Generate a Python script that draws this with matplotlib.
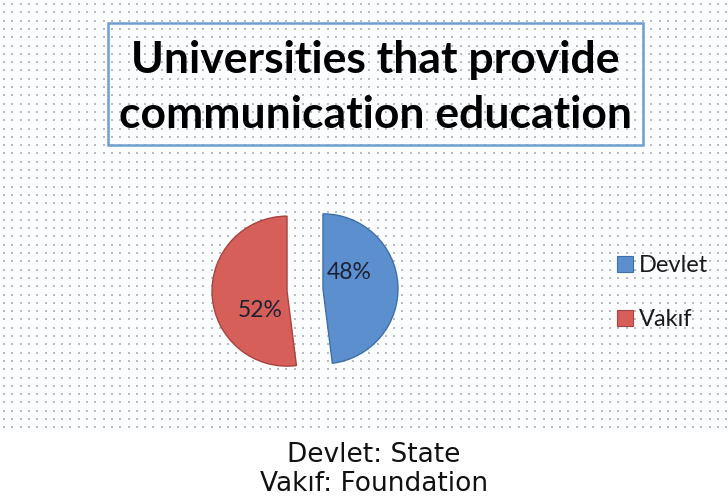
import numpy as np
import matplotlib
matplotlib.use("Agg")
import matplotlib.pyplot as plt
from matplotlib.patches import Rectangle

# Data
categories = ["Devlet", "Vakıf"]
shares = [48, 52]
colors = ["#5b8fce", "#d65f5a"]
edge_colors = ["#3e6fa8", "#a8433f"]
title_lines = ["Universities that provide", "communication education"]
captions = ["Devlet: State", "Vakıf: Foundation"]

W, H = 728, 501
fig = plt.figure(figsize=(W / 100, H / 100), dpi=100)
fig.patch.set_facecolor("white")

# dotted background panel (pixel coordinates)
bg = fig.add_axes([0, 0, 1, 1])
bg.set_xlim(0, W)
bg.set_ylim(H, 0)
bg.axis("off")
bg.add_patch(Rectangle((0, 0), W, 432, facecolor="#fbfdff", edgecolor="none", zorder=0))
xs = np.arange(4, W, 8.3)
ys = np.arange(4, 432, 8.3)
gx, gy = np.meshgrid(xs, ys)
bg.scatter(gx.ravel(), gy.ravel(), s=0.6, c="#b8bcc4", marker="s", linewidths=0, zorder=1)

# title box (transparent, dots show through)
bg.add_patch(Rectangle((108, 23), 535, 122, facecolor="none", edgecolor="#6f9fd0",
                       linewidth=1.8, zorder=2))
for line, base in zip(title_lines, [73, 128]):
    bg.text(375.5, base, line, ha="center", va="baseline", fontsize=32,
            fontweight="bold", family="Lato", color="black", zorder=3)

# pie
cx, cy, r = 305, 290, 75
aw = ah = 2.5 * r
ax = fig.add_axes([(cx - aw / 2) / W, 1 - (cy + ah / 2) / H, aw / W, ah / H])
wedges, texts = ax.pie(shares, colors=colors, startangle=90, counterclock=False,
                       explode=[0.24, 0.24], radius=1.0,
                       wedgeprops=dict(linewidth=1.0))
for w, ec in zip(wedges, edge_colors):
    w.set_edgecolor(ec)
ax.set_aspect("auto")
ax.set_xlim(-1.25, 1.25)
ax.set_ylim(-1.25, 1.25)
label_pos = [(0.59, 0.23), (-0.6, -0.27)]
for (x, y), v in zip(label_pos, shares):
    ax.text(x, y, f"{v}%", ha="center", va="center", fontsize=16.5, family="Lato",
            color="#1c2233")

# legend
leg_y = [264, 318]
for cat, c, ec, y in zip(categories, colors, edge_colors, leg_y):
    bg.add_patch(Rectangle((617, y - 8), 16, 16, facecolor=c, edgecolor=ec,
                           linewidth=0.8, zorder=3))
    bg.text(639, y + 1.5, cat, ha="left", va="center", fontsize=17, family="Lato",
            color="#1a1a1a", zorder=3)

# captions
bg.text(374, 455, captions[0], ha="center", va="center", fontsize=19,
        family="DejaVu Sans", color="#111111")
bg.text(374, 484, captions[1], ha="center", va="center", fontsize=19,
        family="DejaVu Sans", color="#111111")

fig.savefig("out.png", dpi=100, facecolor="white")
